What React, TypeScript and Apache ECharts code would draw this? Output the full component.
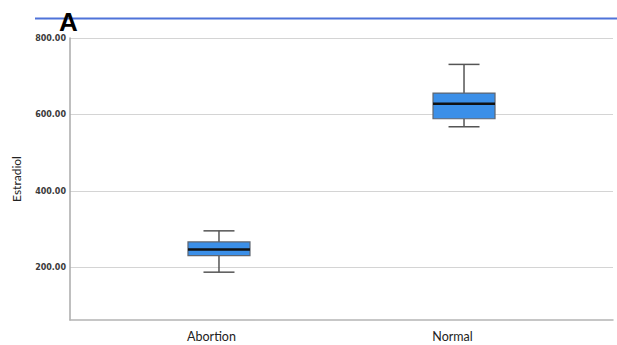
import React, { useEffect, useRef } from "react";
import * as echarts from "echarts";

const categories = ["Abortion", "Normal"];
const minValues = [188, 568];
const q1Values = [231, 589];
const medianValues = [247, 628];
const q3Values = [267, 656];
const maxValues = [296, 731];
const yTicks = [200, 400, 600, 800];
const yName = "Estradiol";
const panelLabel = "A";

export default function App() {
  const ref = useRef<HTMLDivElement>(null);
  useEffect(() => {
    if (!ref.current) return;
    const chart = echarts.init(ref.current, null, { renderer: "svg" });
    const rows = categories.map((_, i) => [
      i,
      minValues[i],
      q1Values[i],
      medianValues[i],
      q3Values[i],
      maxValues[i],
    ]);
    const boxW = 62;
    const capW = 31;
    chart.setOption({
      animation: false,
      grid: {
        left: 70,
        right: 4,
        top: 38,
        bottom: 25,
        containLabel: false,
        outerBoundsMode: "none",
      },
      xAxis: {
        type: "value",
        min: -0.608,
        max: 1.608,
        splitLine: { show: false },
        axisTick: { show: false, customValues: [0, 1] },
        axisLine: { show: true, onZero: false, lineStyle: { color: "#b4b4b4", width: 1.5 } },
        axisLabel: {
          customValues: [0, 1],
          margin: 10,
          formatter: (v: number) => {
            const i = Math.round(v);
            return i === 0 ? `{a|${categories[i]}}` : `{b|${categories[i]}}`;
          },
          rich: {
            a: { fontFamily: "Lato", fontSize: 12.5, color: "#222", padding: [0, 15, 0, 0] },
            b: { fontFamily: "Lato", fontSize: 12.5, color: "#222", padding: [0, 23, 0, 0] },
          },
        },
      },
      yAxis: {
        type: "value",
        min: 63,
        max: 800,
        name: yName,
        nameLocation: "middle",
        nameGap: 48,
        nameTextStyle: { fontFamily: "Lato", fontSize: 12, color: "#222" },
        axisLine: { show: true, onZero: false, lineStyle: { color: "#aaaaaa", width: 1.5 } },
        axisTick: { show: false, customValues: yTicks },
        axisLabel: {
          customValues: yTicks,
          margin: 4,
          formatter: (v: number) => v.toFixed(2),
          fontFamily: "DejaVu Sans",
          fontSize: 8,
          fontWeight: 600,
          color: "#3a3a3a",
        },
        splitLine: { show: true, lineStyle: { color: "#d4d4d4", width: 1 } },
      },
      series: [
        {
          type: "custom",
          data: rows,
          encode: { x: 0, y: [1, 2, 3, 4, 5] },
          renderItem: (params: any, api: any) => {
            const x = api.value(0);
            const pMin = api.coord([x, api.value(1)]);
            const pQ1 = api.coord([x, api.value(2)]);
            const pMed = api.coord([x, api.value(3)]);
            const pQ3 = api.coord([x, api.value(4)]);
            const pMax = api.coord([x, api.value(5)]);
            const cx = pMin[0];
            const ws = { stroke: "#555555", lineWidth: 1.5 };
            return {
              type: "group",
              children: [
                { type: "line", shape: { x1: cx, y1: pQ3[1], x2: cx, y2: pMax[1] }, style: ws },
                { type: "line", shape: { x1: cx - capW / 2, y1: pMax[1], x2: cx + capW / 2, y2: pMax[1] }, style: ws },
                { type: "line", shape: { x1: cx, y1: pQ1[1], x2: cx, y2: pMin[1] }, style: ws },
                { type: "line", shape: { x1: cx - capW / 2, y1: pMin[1], x2: cx + capW / 2, y2: pMin[1] }, style: ws },
                {
                  type: "rect",
                  shape: { x: cx - boxW / 2, y: pQ3[1], width: boxW, height: pQ1[1] - pQ3[1] },
                  style: { fill: "#3b8fe8", stroke: "#5f6670", lineWidth: 1.2 },
                },
                {
                  type: "line",
                  shape: { x1: cx - boxW / 2, y1: pMed[1], x2: cx + boxW / 2, y2: pMed[1] },
                  style: { stroke: "#111111", lineWidth: 2.5 },
                },
              ],
            };
          },
        },
      ],
      graphic: [
        {
          type: "line",
          shape: { x1: 35, y1: 18.5, x2: 617, y2: 18.5 },
          style: { stroke: "#4f73d9", lineWidth: 2 },
          z: 10,
        },
        {
          type: "text",
          x: 59,
          y: 22,
          style: {
            text: panelLabel,
            fontFamily: "Liberation Sans",
            fontWeight: "bold",
            fontSize: 26,
            fill: "#000",
            verticalAlign: "middle",
            align: "left",
          },
          z: 11,
        },
      ],
    });
    return () => chart.dispose();
  }, []);
  return <div ref={ref} style={{ width: 617, height: 345, position: "absolute", left: 0, top: 0 }} />;
}
